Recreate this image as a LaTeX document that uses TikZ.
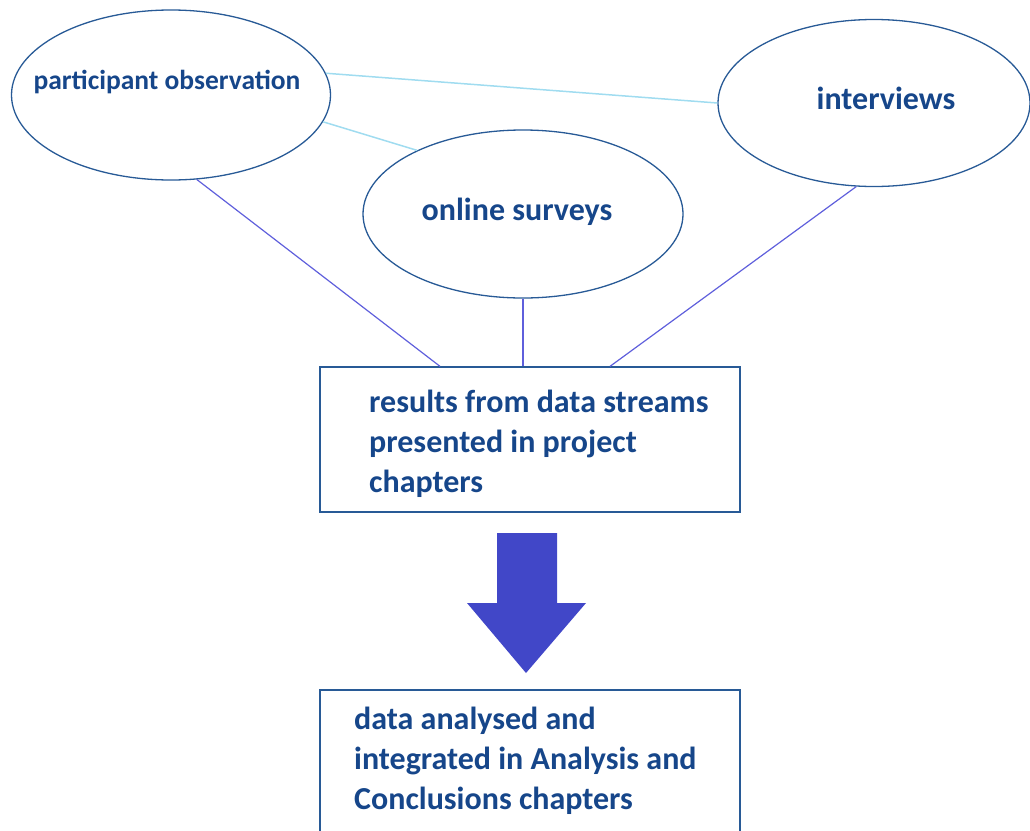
\documentclass[tikz,border=0pt]{standalone}
\usepackage{fontspec}
\setmainfont{Carlito}
\usetikzlibrary{shapes.geometric,calc}
\definecolor{txtblue}{RGB}{22,70,138}
\definecolor{edgeblue}{RGB}{40,90,150}
\definecolor{lightline}{RGB}{160,220,240}
\definecolor{violetline}{RGB}{95,95,220}
\definecolor{arrowblue}{RGB}{65,71,200}
\tikzset{
  oval/.style={ellipse, draw=edgeblue, line width=1.3pt, inner sep=0pt},
  boxnode/.style={draw=edgeblue, line width=1.3pt, inner sep=0pt},
  lbl/.style={text=txtblue, font=\bfseries\fontsize{32}{40}\selectfont, inner sep=0pt},
  lblsmall/.style={text=txtblue, font=\bfseries\fontsize{27.5}{33}\selectfont, inner sep=0pt},
  lightconn/.style={draw=lightline, line width=1.5pt},
  violetconn/.style={draw=violetline, line width=1.2pt},
  bigarrow/.style={fill=arrowblue, draw=none}
}
\begin{document}
\begin{tikzpicture}[x=1pt,y=-1pt]
\useasboundingbox (0,0) rectangle (1030,830);
\clip (0,0) rectangle (1030,830);
% ellipses
\node[oval, minimum width=319pt, minimum height=170pt] (po) at (171,95) {};
\node[oval, minimum width=312pt, minimum height=167pt] (iv) at (874,103) {};
\node[oval, minimum width=320pt, minimum height=168pt] (os) at (523,214) {};
\node[lblsmall] (potxt) at (167,82) {participant observation};
\node[lbl] (ivtxt) at (886,98) {interviews};
\node[lbl] (ostxt) at (517,212) {online surveys};
% boxes
\node[boxnode, minimum width=420pt, minimum height=145pt] (box1) at (530,439.5) {};
\node[lbl, align=left, anchor=west] (box1txt) at (369,444) {results from data streams\\presented in project\\chapters};
\node[boxnode, minimum width=420pt, minimum height=200pt] (box2) at (530,790) {};
\node[lbl, align=left, anchor=west] (box2txt) at (354,761) {data analysed and\\integrated in Analysis and\\Conclusions chapters};
% connectors
\draw[lightconn] (po.8) -- (iv.180);
\draw[lightconn] (po.-10) -- (os.149);
\draw[violetconn] (po.-73) -- ([xshift=-90pt]box1.north);
\draw[violetconn] (os.south) -- (os.south |- box1.north);
\draw[violetconn] (iv.258) -- ([xshift=80pt]box1.north);
% big arrow
\path[bigarrow] (497,533) -- (557,533) -- (557,603) -- (586,603) -- (526,673) -- (467,603) -- (497,603) -- cycle;
\end{tikzpicture}
\end{document}
